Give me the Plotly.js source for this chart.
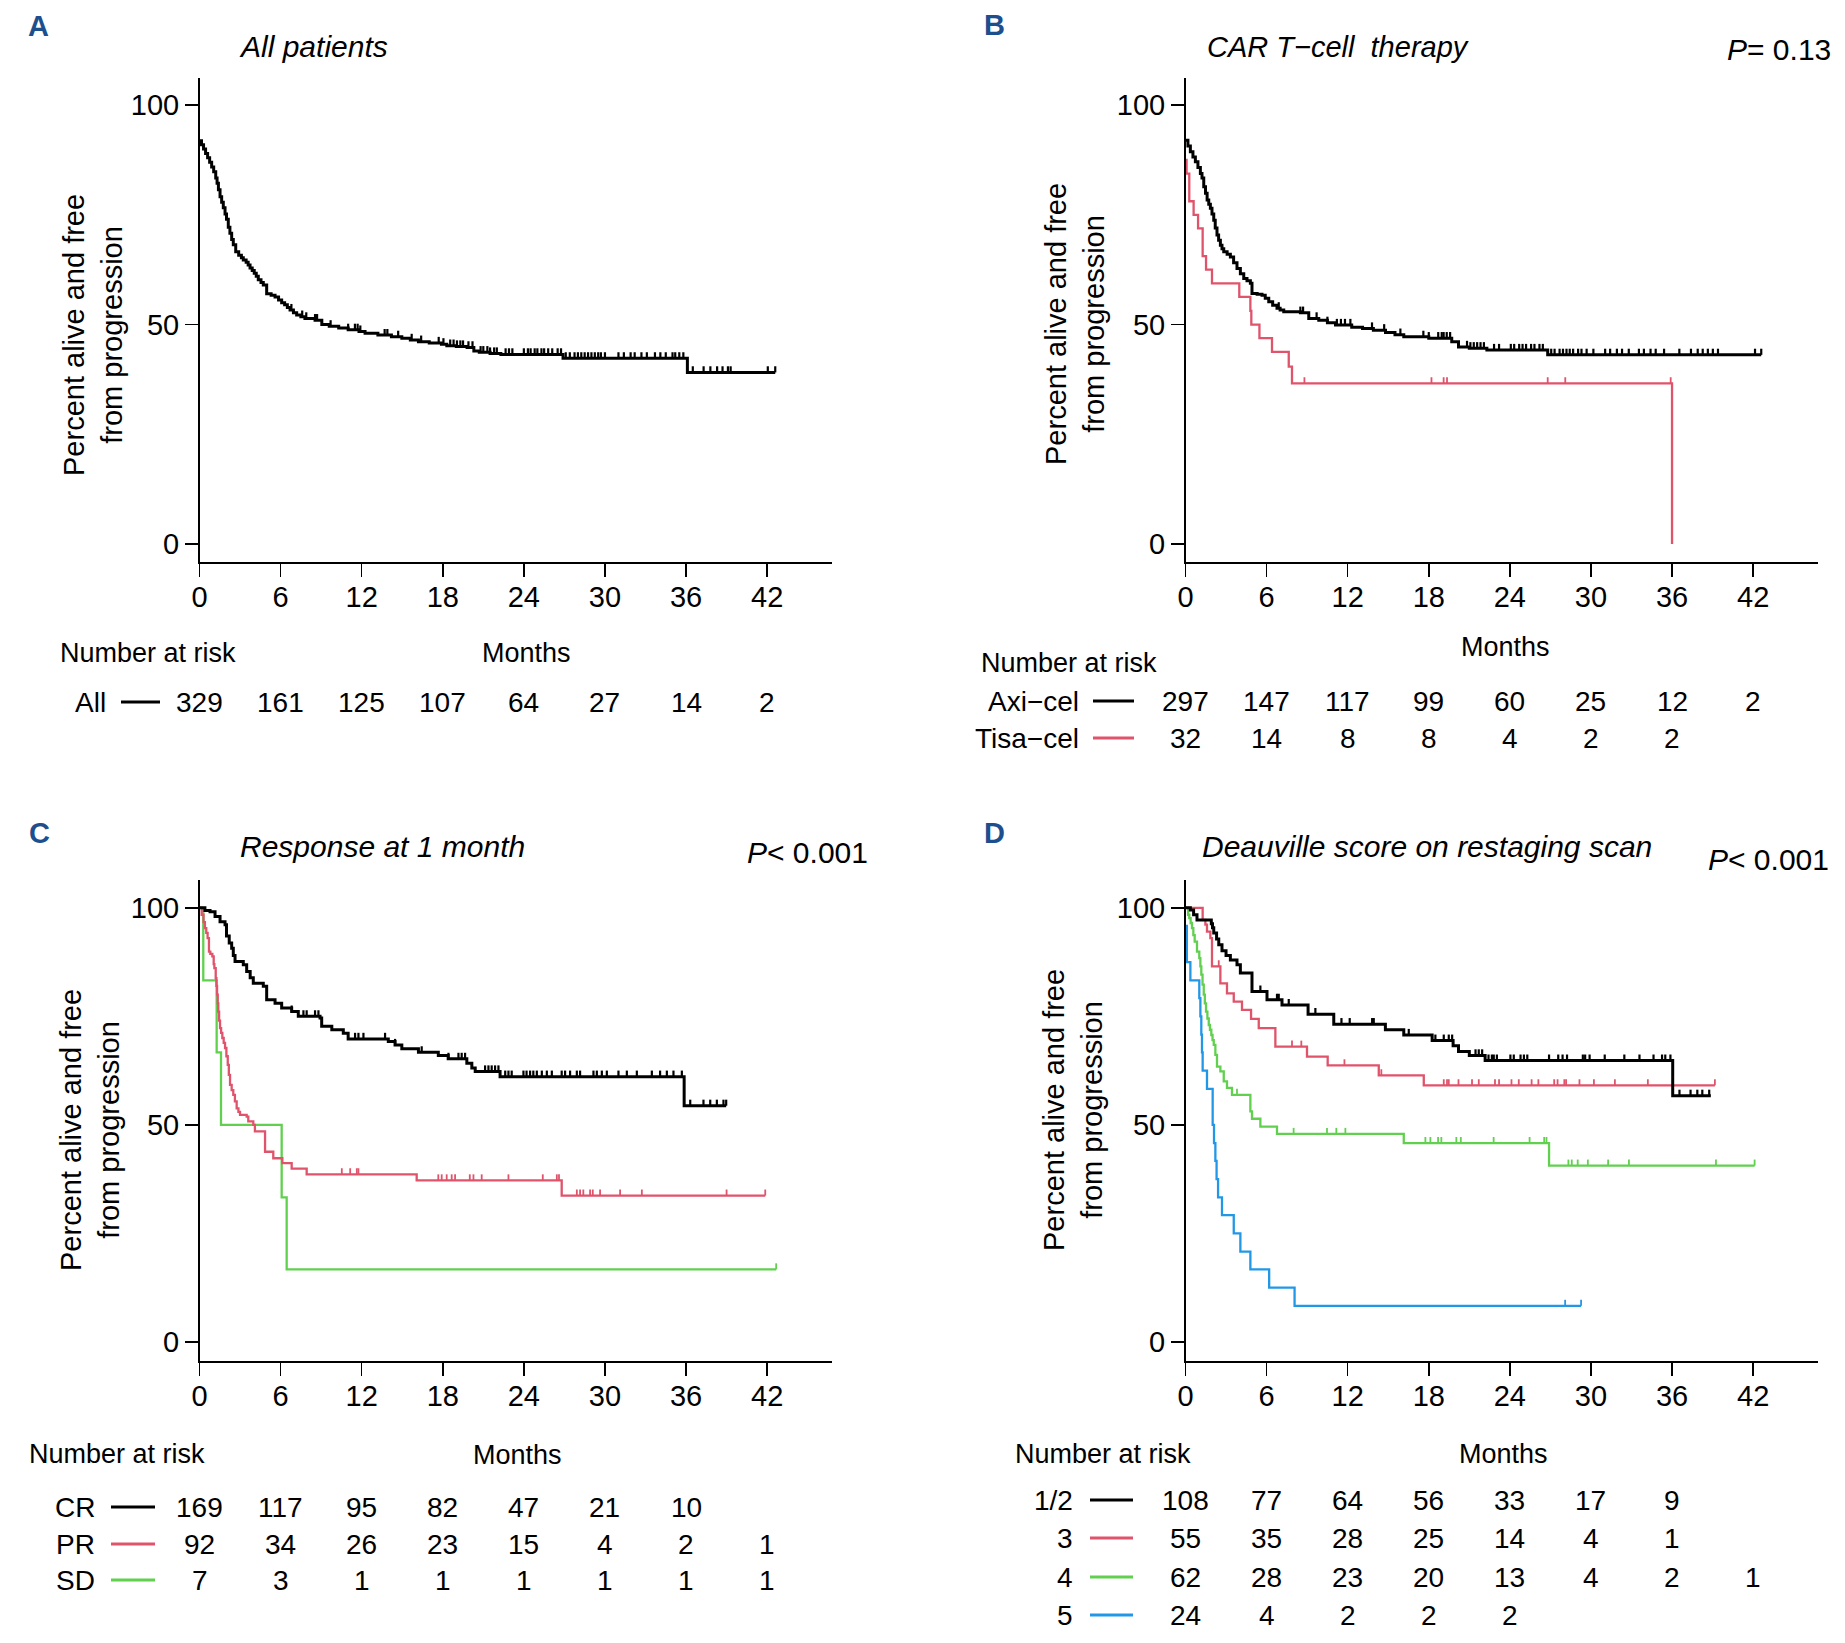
<!DOCTYPE html>
<html>
<head>
<meta charset="utf-8">
<script src="https://cdn.plot.ly/plotly-3.0.1.min.js"></script>
<style>html,body{margin:0;padding:0;background:#fff;}#chart{width:1845px;height:1643px;}</style>
</head>
<body>
<div id="chart"></div>
<script>
// ---------------- DATA ----------------
const months = [0, 6, 12, 18, 24, 30, 36, 42];

// Panel A: all patients
const allT = [0,0.15,0.3,0.45,0.6,0.75,0.9,1.05,1.2,1.3,1.4,1.52,1.64,1.76,1.89,2.0,2.13,2.25,2.38,2.5,2.68,2.9,3.1,3.24,3.45,3.6,3.74,3.9,4.05,4.2,4.35,4.55,4.72,4.97,5.3,5.59,5.85,6.08,6.3,6.5,6.7,6.95,7.19,7.5,7.8,8.55,9.05,9.6,10.3,11.0,11.8,12.25,13.2,14.2,14.97,15.6,16.2,17.0,17.9,18.3,19.0,19.8,20.3,20.7,21.5,22.3,26.9,36.1,42.6];
const allS = [91.9,91.0,90.0,89.0,88.0,87.0,85.9,84.8,83.4,82.2,80.7,79.1,77.9,76.6,75.2,74.0,72.2,70.8,69.4,68.2,66.6,65.8,65.2,64.7,64.2,63.6,62.9,62.3,61.7,61.0,60.2,59.6,59.0,57.0,56.7,56.3,55.6,55.0,54.5,53.9,53.3,52.7,52.2,51.8,51.4,51.0,50.0,49.6,49.2,48.8,48.4,48.0,47.6,47.2,46.9,46.5,46.1,45.8,45.5,45.2,45.0,44.8,44.0,43.7,43.4,43.2,42.3,39.1,39.1];
const allCens = [6.8,7.6,7.9,8.55,8.7,9.7,11.0,11.5,11.7,11.9,13.7,13.9,14.7,15.7,16.4,17.7,18.05,18.55,18.8,19.05,19.3,19.5,19.9,20.2,20.8,21.0,21.3,21.5,21.8,22.0,22.65,22.9,23.15,24.0,24.3,24.5,24.8,25.0,25.3,25.5,25.8,26.1,26.5,26.75,27.1,27.4,27.75,28.0,28.25,28.5,28.75,29.0,29.25,29.5,29.7,30.0,31.0,31.4,31.9,32.2,32.7,33.1,33.7,34.1,34.5,35.0,35.2,35.5,35.8,36.5,37.3,37.8,38.3,38.7,39.1,39.3,42.05,42.6];

// Panel B: CAR T-cell product
const axiT = [0,0.18,0.36,0.55,0.73,0.92,1.1,1.22,1.35,1.48,1.6,1.72,1.84,1.96,2.09,2.2,2.33,2.45,2.58,2.7,2.83,3.08,3.32,3.56,3.81,4.06,4.31,4.55,4.8,4.92,5.3,5.66,5.9,6.16,6.45,6.77,7.0,7.27,8.5,9.12,9.86,10.5,11.1,12.3,13.1,13.9,14.8,15.5,16.15,18.0,19.7,20.2,21.0,22.3,26.8,42.6];
const axiS = [92.0,90.7,89.4,88.2,87.1,85.8,84.4,83.4,81.4,79.9,78.4,77.4,76.5,75.2,73.8,72.0,70.4,69.2,68.1,67.3,66.6,66.0,65.4,64.1,62.8,61.6,60.5,60.0,59.4,57.1,56.9,56.7,56.0,55.2,54.4,53.7,53.3,52.9,52.7,51.4,51.0,50.4,49.9,49.4,49.1,48.7,48.2,47.7,47.2,46.9,46.1,44.9,44.6,44.2,43.1,43.1];
const axiCens = [6.9,8.5,8.7,9.7,10.5,11.2,11.5,11.8,12.2,13.8,14.7,15.9,17.6,18.0,18.7,18.96,19.1,19.33,19.58,20.83,21.08,21.33,21.58,21.83,22.08,22.83,23.2,24.07,24.32,24.69,24.94,25.2,25.57,25.82,26.19,26.44,27.06,27.31,27.68,27.93,28.19,28.43,28.68,29.05,29.3,29.68,30.18,31.05,31.42,31.92,32.3,32.8,33.55,33.92,34.41,34.79,35.41,36.54,37.4,37.9,38.27,38.65,39.02,39.4,42.14,42.6];
const tisaT = [0,0.08,0.28,0.6,0.93,1.27,1.52,1.96,3.98,4.8,4.87,5.47,6.4,7.64,7.88,36.0];
const tisaS = [87.5,84.4,78.1,75.0,71.9,65.6,62.5,59.4,56.3,53.1,50.0,46.9,43.8,40.4,36.6,0];
const tisaCens = [8.8,18.2,19.1,19.35,26.8,28.1,35.9];

// Panel C: response at 1 month
const crT = [0,0.4,0.78,1.15,1.52,1.89,2.0,2.2,2.38,2.5,2.63,3.24,3.49,3.75,3.98,4.72,4.97,5.59,6.08,6.82,7.31,8.92,9.04,9.79,10.64,11.0,13.97,14.47,14.97,16.2,17.67,18.4,19.78,20.15,20.4,22.24,35.86,38.97];
const crS = [100,99.4,99.1,98.0,96.8,96.1,93.5,91.9,90.7,89.0,87.6,86.9,85.3,83.9,82.6,81.9,78.8,78.0,76.9,76.1,75.0,74.6,72.7,71.9,71.1,69.8,69.2,68.4,67.5,66.7,66.0,65.2,64.2,63.1,62.3,61.1,54.4,54.4];
const crCens = [6.82,7.69,7.93,8.55,8.8,11.51,11.76,12.13,13.73,14.47,16.44,18.42,19.16,19.4,19.65,21.13,21.38,21.62,21.87,22.12,22.62,22.86,23.1,23.97,24.2,24.46,24.7,24.96,25.33,25.7,26.07,26.8,27.05,27.42,27.92,28.16,29.15,29.4,29.77,30.14,31.0,31.62,32.36,33.47,34.08,34.58,35.07,35.69,36.31,37.29,37.79,38.28,38.77,38.97];
const prT = [0,0.16,0.3,0.4,0.5,0.6,0.7,0.8,0.95,1.05,1.1,1.2,1.25,1.3,1.35,1.39,1.45,1.52,1.6,1.69,1.79,1.89,1.99,2.09,2.17,2.26,2.38,2.5,2.62,2.75,2.88,3.0,3.49,3.61,3.98,4.1,4.85,5.46,6.13,6.82,7.93,16.07,26.8,41.86];
const prS = [100,98.4,96.7,95.3,94.2,93.0,89.9,89.4,88.8,87.0,86.1,83.8,82.0,80.0,78.0,76.1,74.0,72.3,71.2,70.0,68.9,67.7,65.8,63.8,61.5,59.2,58.0,56.9,55.4,53.8,53.0,52.3,51.9,50.8,50.0,48.5,43.8,42.3,41.2,39.9,38.6,37.2,33.7,33.7];
const prCens = [10.53,11.15,11.64,11.76,17.67,17.92,18.29,18.66,18.91,20.0,20.27,20.88,22.86,25.4,26.44,26.6,27.92,28.16,28.4,28.9,29.1,29.64,31.12,32.73,39.0,41.86];
const sdT = [0,0.28,1.27,1.59,6.08,6.45,42.67];
const sdS = [100,83.3,66.7,50.0,33.3,16.7,16.7];
const sdCens = [42.67];

// Panel D: Deauville score
const d12T = [0,0.36,0.6,0.85,1.91,2.0,2.09,2.3,2.46,2.7,3.0,3.32,3.81,4.06,4.92,6.03,7.14,9.07,10.97,14.79,16.15,18.25,19.8,20.2,21.0,22.17,36.05,38.87];
const d12S = [100,99.5,98.4,97.2,96.3,95.4,94.2,92.8,91.5,90.1,89.0,88.0,86.9,85.0,80.7,78.8,77.6,75.5,73.2,71.9,70.7,69.4,68.2,66.9,66.0,64.8,56.7,56.7];
const d12Cens = [5.54,6.77,6.9,7.64,9.61,11.54,12.15,13.81,13.93,16.52,18.49,19.11,19.48,19.73,21.46,21.7,21.95,22.42,22.67,22.81,23.04,24.04,24.29,24.79,25.04,25.29,26.9,27.58,27.9,28.23,29.4,29.57,29.9,31.02,32.47,33.59,34.63,35.26,35.5,35.88,36.55,37.37,37.87,38.24,38.75];
const d3T = [0,1.27,1.47,1.59,1.84,1.96,2.58,3.07,3.57,4.18,4.85,5.42,6.65,8.99,10.52,14.3,17.63,39.17];
const d3S = [100,97.2,96.1,94.5,93.0,86.5,82.6,80.3,78.4,76.5,74.4,72.3,68.0,65.7,63.7,61.4,59.1,59.1];
const d3Cens = [2.46,7.88,8.57,11.76,14.49,19.11,19.35,19.48,20.2,21.2,21.7,22.9,23.2,24.12,24.66,25.61,26.11,27.28,27.53,28.03,28.16,29.15,30.22,31.77,34.21,39.17];
const d4T = [0,0.19,0.28,0.38,0.48,0.58,0.68,0.85,1.02,1.1,1.17,1.26,1.35,1.43,1.52,1.62,1.72,1.81,1.91,2.0,2.09,2.21,2.33,2.58,2.83,3.07,3.44,4.8,4.92,5.54,6.77,16.15,26.9,42.11];
const d4S = [100,98.4,97.6,96.5,95.3,93.7,92.2,89.9,88.4,86.5,84.6,82.3,80.0,78.0,76.1,74.5,73.0,71.9,70.7,69.5,68.4,66.1,63.4,62.3,60.0,58.5,56.9,53.1,51.4,49.6,47.9,45.8,40.6,40.6];
const d4Cens = [3.81,8.0,10.47,11.16,11.83,17.75,18.12,18.69,18.93,20.04,20.37,22.8,25.46,26.54,26.71,28.33,28.58,29.02,29.77,31.27,32.81,39.25,42.11];
const d5T = [0,0.1,0.36,1.02,1.1,1.17,1.22,1.27,1.59,2.01,2.11,2.21,2.3,2.41,2.7,3.57,4.06,4.8,6.19,8.07,29.27];
const d5S = [95.8,87.5,83.3,79.2,75.0,70.8,66.7,62.5,58.3,50.0,45.8,41.7,37.5,33.3,29.2,25.0,20.8,16.7,12.5,8.3,8.3];
const d5Cens = [28.09,29.27];

// Numbers at risk
const riskAll = [329,161,125,107,64,27,14,2];
const riskAxi = [297,147,117,99,60,25,12,2];
const riskTisa = [32,14,8,8,4,2,2];
const riskCR = [169,117,95,82,47,21,10];
const riskPR = [92,34,26,23,15,4,2,1];
const riskSD = [7,3,1,1,1,1,1,1];
const riskD12 = [108,77,64,56,33,17,9];
const riskD3 = [55,35,28,25,14,4,1];
const riskD4 = [62,28,23,20,13,4,2,1];
const riskD5 = [24,4,2,2,2];

// ---------------- DRAWING ----------------
const W = 1845, H = 1643;
const px = x => x / W;
const py = y => 1 - y / H;
const FONT = 'Liberation Sans, Arial, Helvetica, sans-serif';
const BLACK = '#000000', RED = '#DF536B', GREEN = '#61D04F', BLUE = '#2297E6';
const LETTER = '#1d4f8e';
const TICK_UP = 1.4; // censor tick height, in percent units

function stepAt(T, S, t) {
  let v = S[0];
  for (let i = 0; i < T.length; i++) { if (T[i] <= t + 1e-9) v = S[i]; else break; }
  return v;
}

const traces = [];
function addCurve(T, S, C, color, width, ax) {
  const xa = ax[0], ya = ax[1];
  traces.push({type:'scatter', mode:'lines', x:T, y:S, xaxis:xa, yaxis:ya,
    line:{shape:'hv', color:color, width:width}, hoverinfo:'skip', showlegend:false});
  const cx = [], cy = [];
  C.forEach(t => { const s = stepAt(T, S, t); cx.push(t, t, null); cy.push(s, s + TICK_UP, null); });
  traces.push({type:'scatter', mode:'lines', x:cx, y:cy, xaxis:xa, yaxis:ya, connectgaps:false,
    line:{color:color, width:Math.max(1.8, width - 0.8)}, hoverinfo:'skip', showlegend:false});
}
addCurve(allT, allS, allCens, BLACK, 3, ['x','y']);
addCurve(tisaT, tisaS, tisaCens, RED, 2.3, ['x2','y2']);
addCurve(axiT, axiS, axiCens, BLACK, 3, ['x2','y2']);
addCurve(sdT, sdS, sdCens, GREEN, 2.3, ['x3','y3']);
addCurve(prT, prS, prCens, RED, 2.3, ['x3','y3']);
addCurve(crT, crS, crCens, BLACK, 3, ['x3','y3']);
addCurve(d5T, d5S, d5Cens, BLUE, 2.3, ['x4','y4']);
addCurve(d4T, d4S, d4Cens, GREEN, 2.3, ['x4','y4']);
addCurve(d3T, d3S, d3Cens, RED, 2.3, ['x4','y4']);
addCurve(d12T, d12S, d12Cens, BLACK, 3, ['x4','y4']);

function xAxis(d0, d1, anchor) {
  return {domain:[px(d0), px(d1)], anchor:anchor, range:[0, 46.8], tickvals:months,
    ticks:'outside', ticklen:13, tickwidth:1.5, tickcolor:'#000', showline:true, linewidth:1.5,
    linecolor:'#000', showgrid:false, zeroline:false, tickfont:{family:FONT, size:29, color:'#000'},
    ticklabelstandoff:-4, fixedrange:true};
}
function yAxis(top, bot, lo, hi, anchor) {
  return {domain:[py(bot), py(top)], anchor:anchor, range:[lo, hi], tickvals:[0, 50, 100],
    ticks:'outside', ticklen:13, tickwidth:1.5, tickcolor:'#000', showline:true, linewidth:1.5,
    linecolor:'#000', showgrid:false, zeroline:false, tickfont:{family:FONT, size:29, color:'#000'},
    fixedrange:true};
}

const ann = [];
const shapes = [];
function text(x, y, t, size, opts) {
  ann.push(Object.assign({xref:'paper', yref:'paper', x:px(x), y:py(y), text:t, showarrow:false,
    xanchor:'center', yanchor:'middle', font:{family:FONT, size:size, color:'#000'}}, opts || {}));
}
// panel letters
[['A',38,26],['B',994,25],['C',39,833],['D',994,833]].forEach(l =>
  text(l[1], l[2], '<b>' + l[0] + '</b>', 29, {font:{family:FONT, size:29, color:LETTER}}));
// titles
text(313, 47, '<i>All patients</i>', 30);
text(1338, 47, '<i>CAR T\u2212cell\u00a0 therapy</i>', 29);
text(1833, 50, '<i>P</i>= 0.13', 30, {xanchor:'right'});
text(382, 847, '<i>Response at 1 month</i>', 30);
text(870, 852, '<i>P</i>&lt; 0.001', 30, {xanchor:'right'});
text(1427, 847, '<i>Deauville score on restaging scan</i>', 30);
text(1831, 859, '<i>P</i>&lt; 0.001', 30, {xanchor:'right'});
// y titles
const ytitle = 'Percent alive and free<br>from progression';
[[93,335],[1075,324],[90,1130],[1073,1110]].forEach(p => text(p[0], p[1], ytitle, 29, {textangle:-90}));
// Number at risk & Months
text(58, 653, 'Number at risk', 27, {xanchor:'left'});
text(526, 653, 'Months', 27);
text(979, 663, 'Number at risk', 27, {xanchor:'left'});
text(1505, 647, 'Months', 27);
text(27, 1454, 'Number at risk', 27, {xanchor:'left'});
text(517, 1455, 'Months', 27);
text(1013, 1454, 'Number at risk', 27, {xanchor:'left'});
text(1503, 1454, 'Months', 27);

function riskRow(values, xref, yPix, label, labelRight, l0, l1, color) {
  values.forEach((v, i) => ann.push({xref:xref, yref:'paper', x:months[i], y:py(yPix), text:String(v),
    showarrow:false, xanchor:'center', yanchor:'middle', font:{family:FONT, size:28, color:'#000'}}));
  text(labelRight, yPix, label, 28, {xanchor:'right'});
  shapes.push({type:'line', xref:'paper', yref:'paper', x0:px(l0), x1:px(l1), y0:py(yPix), y1:py(yPix),
    line:{color:color, width:3}});
}
riskRow(riskAll, 'x', 702, 'All', 108, 121, 160, BLACK);
riskRow(riskAxi, 'x2', 701, 'Axi\u2212cel', 1081, 1093, 1134, BLACK);
riskRow(riskTisa, 'x2', 738, 'Tisa\u2212cel', 1081, 1093, 1134, RED);
riskRow(riskCR, 'x3', 1507, 'CR', 97, 111, 155, BLACK);
riskRow(riskPR, 'x3', 1544, 'PR', 97, 111, 155, RED);
riskRow(riskSD, 'x3', 1580, 'SD', 97, 111, 155, GREEN);
riskRow(riskD12, 'x4', 1500, '1/2', 1075, 1090, 1133, BLACK);
riskRow(riskD3, 'x4', 1538, '3', 1075, 1090, 1133, RED);
riskRow(riskD4, 'x4', 1577, '4', 1075, 1090, 1133, GREEN);
riskRow(riskD5, 'x4', 1615, '5', 1075, 1090, 1133, BLUE);

const layout = {
  width:W, height:H, margin:{l:0, r:0, t:0, b:0}, paper_bgcolor:'#fff', plot_bgcolor:'rgba(0,0,0,0)',
  showlegend:false, font:{family:FONT, color:'#000'},
  xaxis: xAxis(199.5, 832, 'y'),
  yaxis: yAxis(77.5, 562, -4.1, 106.3, 'x'),
  xaxis2: xAxis(1185.5, 1818, 'y2'),
  yaxis2: yAxis(77.5, 562, -4.1, 106.3, 'x2'),
  xaxis3: xAxis(199.5, 832, 'y3'),
  yaxis3: yAxis(880, 1361, -4.4, 106.4, 'x3'),
  xaxis4: xAxis(1185.5, 1818, 'y4'),
  yaxis4: yAxis(880, 1361, -4.4, 106.4, 'x4'),
  annotations: ann, shapes: shapes
};
Plotly.newPlot('chart', traces, layout, {staticPlot:true, displayModeBar:false});
</script>
</body>
</html>
